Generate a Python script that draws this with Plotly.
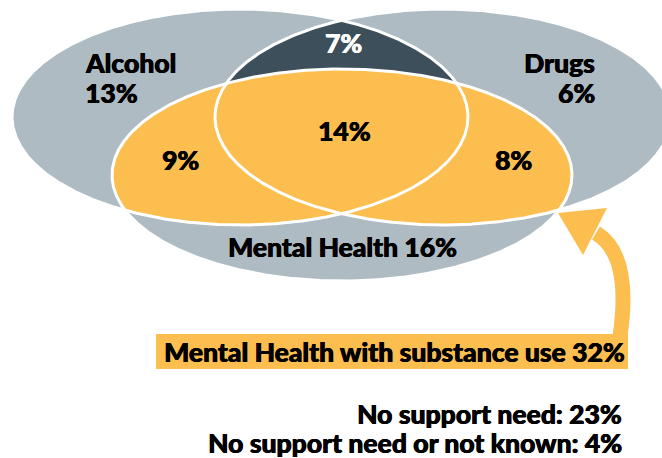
import numpy as np
import plotly.graph_objects as go

# ---- data ----
set_names = ["Alcohol", "Drugs", "Mental Health"]
only_pct = [13, 6, 16]                 # single-set-only shares
alc_drug_pct = 7                       # alcohol & drugs, no mental health
alc_mh_pct = 9                         # alcohol & mental health
drug_mh_pct = 8                        # drugs & mental health
all_three_pct = 14                     # all three
mh_substance_label = "Mental Health with substance use"
mh_substance_pct = 32
summary_labels = ["No support need", "No support need or not known"]
summary_pct = [23, 4]

# ---- geometry (pixel-like canvas) ----
W, H = 662, 458
ELL = {
    "Alcohol": (240, 117, 228, 108),
    "Drugs": (443, 117, 228, 108),
    "Mental Health": (342, 175, 230, 106),
}
GREY = "#aebbc3"
DARK = "#3c4f5a"
ORANGE = "#fcbe4f"
FONT = "Lato"
FS = 26.5
FW = 900


def ell_pts(e, n=1500):
    cx, cy, a, b = e
    t = np.linspace(0, 2 * np.pi, n)
    return cx + a * np.cos(t), cy + b * np.sin(t)


def inside(x, y, e):
    cx, cy, a, b = e
    return ((x - cx) / a) ** 2 + ((y - cy) / b) ** 2 <= 1 + 1e-9


def intersect(e1, e2):
    x1, y1 = ell_pts(e1)
    x2, y2 = ell_pts(e2)
    m1 = inside(x1, y1, e2)
    m2 = inside(x2, y2, e1)
    xs = np.concatenate([x1[m1], x2[m2]])
    ys = np.concatenate([y1[m1], y2[m2]])
    mx, my = xs.mean(), ys.mean()
    order = np.argsort(np.arctan2(ys - my, xs - mx))
    xs, ys = xs[order], ys[order]
    return np.append(xs, xs[0]), np.append(ys, ys[0])


fig = go.Figure()


def poly(x, y, color):
    fig.add_trace(go.Scatter(x=x, y=y, mode="lines", fill="toself",
                             fillcolor=color, line=dict(width=0),
                             hoverinfo="skip", showlegend=False))


A, D, M = ELL["Alcohol"], ELL["Drugs"], ELL["Mental Health"]
for e in (A, D, M):
    poly(*ell_pts(e), GREY)
poly(*intersect(A, D), DARK)
poly(*intersect(M, A), ORANGE)
poly(*intersect(M, D), ORANGE)
for e in (A, D, M):
    x, y = ell_pts(e)
    fig.add_trace(go.Scatter(x=x, y=y, mode="lines",
                             line=dict(color="white", width=3),
                             hoverinfo="skip", showlegend=False))

# arrow + label box
shapes = [
    dict(type="rect", xref="x", yref="y", x0=156, x1=628, y0=334, y1=369,
         fillcolor=ORANGE, line=dict(width=0), layer="above"),
    dict(type="path", xref="x", yref="y", path="M 620,336 Q 632,255 596,233",
         line=dict(color=ORANGE, width=15), layer="above"),
    dict(type="path", xref="x", yref="y", path="M 558,213 L 607,208 L 583,255 Z",
         fillcolor=ORANGE, line=dict(width=0), layer="above"),
]


def ann(text, x, y, size=FS, color="black", xanchor="center", yanchor="middle", align="center"):
    return dict(text=text, x=x, y=y, xref="x", yref="y", showarrow=False,
                xanchor=xanchor, yanchor=yanchor, align=align, borderpad=0,
                font=dict(family=FONT, size=size, color=color, weight=FW,
                          shadow=f"0.5px 0px 0px {color}, -0.3px 0px 0px {color}"))


annotations = [
    ann(set_names[0], 84, 80, xanchor="left", yanchor="bottom"),
    ann(f"{only_pct[0]}%", 84, 76, xanchor="left", yanchor="top"),
    ann(set_names[1], 596, 80, xanchor="right", yanchor="bottom"),
    ann(f"{only_pct[1]}%", 596, 76, xanchor="right", yanchor="top"),
    ann(f"{set_names[2]} {only_pct[2]}%", 342, 247),
    ann(f"{alc_drug_pct}%", 343, 43, color="white"),
    ann(f"{all_three_pct}%", 344, 131),
    ann(f"{alc_mh_pct}%", 180, 160),
    ann(f"{drug_mh_pct}%", 513, 160),
    ann(f"{mh_substance_label} {mh_substance_pct}%", 394, 352),
    ann(f"{summary_labels[0]}: {summary_pct[0]}%", 623, 414, xanchor="right"),
    ann(f"{summary_labels[1]}: {summary_pct[1]}%", 623, 443, xanchor="right"),
]

fig.update_layout(
    width=W, height=H, margin=dict(l=0, r=0, t=0, b=0),
    paper_bgcolor="white", plot_bgcolor="white",
    xaxis=dict(range=[0, W], visible=False, fixedrange=True),
    yaxis=dict(range=[H, 0], visible=False, fixedrange=True),
    shapes=shapes, annotations=annotations, showlegend=False,
)
fig.write_html("out.html", post_script="document.body.style.margin='0px';",
               config={"displayModeBar": False})
